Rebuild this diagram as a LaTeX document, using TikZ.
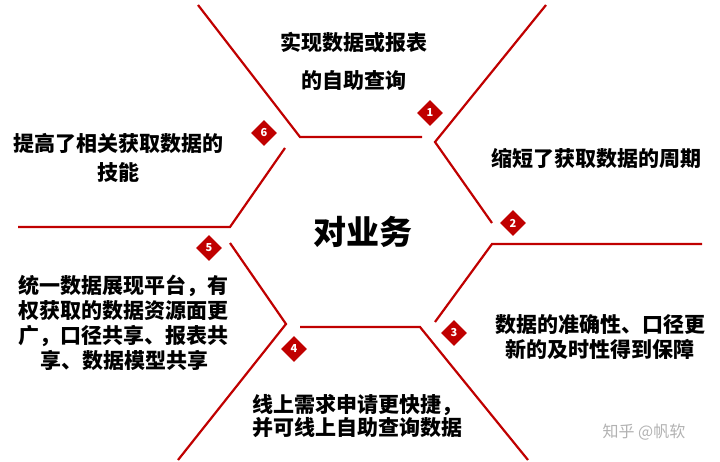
\documentclass[tikz,border=0pt]{standalone}
\usepackage{fontspec}
\newfontfamily\cjk{Noto Sans CJK SC}
\usetikzlibrary{shapes.geometric}
\definecolor{myred}{RGB}{192,0,0}
\begin{document}
\begin{tikzpicture}[x=1pt,y=-1pt,
  redline/.style={draw=myred, line width=2.2pt},
  num/.style={diamond, fill=myred, text=white, minimum width=26pt, minimum height=26pt, inner sep=0pt, font=\cjk\bfseries\fontsize{11}{11}\selectfont},
  txt/.style={font=\cjk\bfseries\fontsize{21}{25}\selectfont, align=center, inner sep=0pt}]
\useasboundingbox[fill=white] (0,0) rectangle (720,462);
% hexagon pieces
\draw[redline] (198,5) -- (300,137) -- (422,137);
\draw[redline] (546,5) -- (435,142) -- (492,223);
\draw[redline] (702,244) -- (492,244) -- (435,322);
\draw[redline] (528,460) -- (420,327) -- (300,327);
\draw[redline] (178,460) -- (286,324) -- (230,243);
\draw[redline] (18,227) -- (230,227) -- (285,148);
% numbers
\node[num] (n1) at (430,113) {1};
\node[num] (n2) at (513,223) {2};
\node[num] (n3) at (454,333) {3};
\node[num] (n4) at (294,349) {4};
\node[num] (n5) at (209,248) {5};
\node[num] (n6) at (264,133) {6};
% texts
\node[txt, font=\cjk\bfseries\fontsize{21}{38}\selectfont] (t1) at (354,61) {实现数据或报表\\的自助查询};
\node[txt] (t2) at (596,158) {缩短了获取数据的周期};
\node[txt] (t3) at (600,337.5) {数据的准确性、口径更\\新的及时性得到保障};
\node[txt, font=\cjk\bfseries\fontsize{21}{23}\selectfont] (t4) at (357,416.5) {线上需求申请更快捷，\\并可线上自助查询数据};
\node[txt] (t5) at (124,322.5) {统一数据展现平台，有\\权获取的数据资源面更\\广，口径共享、报表共\\享、数据模型共享};
\node[txt, font=\cjk\bfseries\fontsize{21}{29}\selectfont] (t6) at (118,157.5) {提高了相关获取数据的\\技能};
\node[txt, font=\cjk\bfseries\fontsize{33}{33}\selectfont] (center) at (363,232) {对业务};
\node[font=\cjk\fontsize{16}{16}\selectfont, text=black!30, inner sep=0pt] (wm) at (644,432) {知乎 @帆软};
\end{tikzpicture}
\end{document}
